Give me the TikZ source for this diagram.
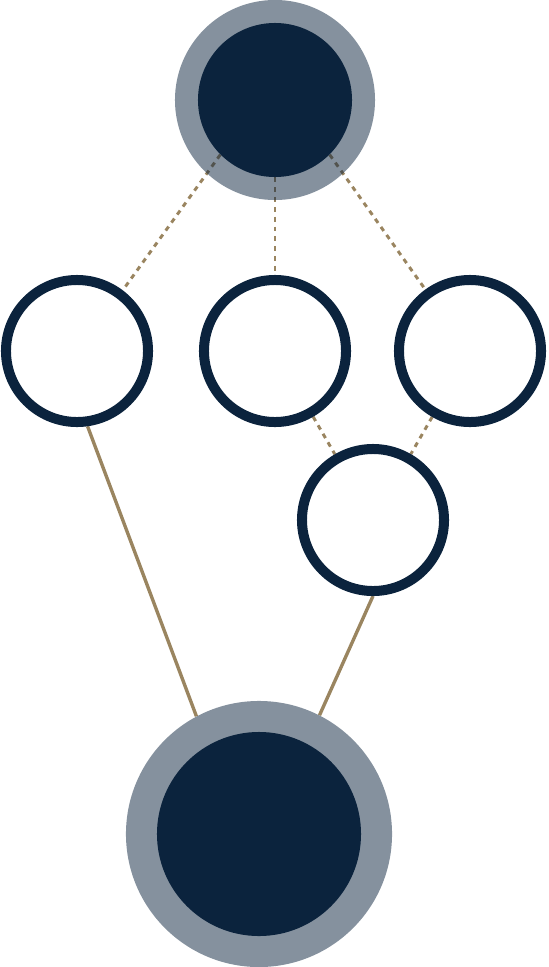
\documentclass[tikz,border=0pt]{standalone}
\usetikzlibrary{positioning,backgrounds}
\definecolor{navy}{HTML}{0B233D}
\definecolor{tan}{HTML}{9A8560}

\begin{document}
\begin{tikzpicture}[
x=0.025cm,y=-0.025cm,
halo/.style={circle,fill=navy,fill opacity=0.5,inner sep=0pt},
core/.style={circle,fill=navy,inner sep=0pt},
ring/.style={circle,draw=navy,line width=0.25cm,fill=white,inner sep=0pt,minimum size=3.55cm},
link/.style={tan,line width=2.1pt,dash pattern=on 3.5pt off 3.5pt},
tie/.style={tan,line width=2.4pt}
]
\useasboundingbox (0,0) rectangle (548,967);

\node (tophalo)[halo,minimum size=5cm] at (275,100){};
\node (top)[core,minimum size=3.85cm] at (275,100){};

\node (left)[ring] at (77,351){};
\node (mid)[ring] at (275,351){};
\node (right)[ring] at (470,351){};

\node (low)[ring] at (373,520){};

\node (bothalo)[halo,minimum size=6.65cm] at (259,834){};
\node (bot)[core,minimum size=5.1cm] at (259,834){};

\begin{pgfonlayer}{background}
\draw[link](top.225)--(left.53);
\draw[link](top.south)--(mid.north);
\draw[link](top.-45)--(right.126);
\draw[link](mid)--(low);
\draw[link](right)--(low);
\draw[tie](left.-82)--(bothalo.118);
\draw[tie](low.south)--(bothalo.63);
\end{pgfonlayer}

\end{tikzpicture}
\end{document}
